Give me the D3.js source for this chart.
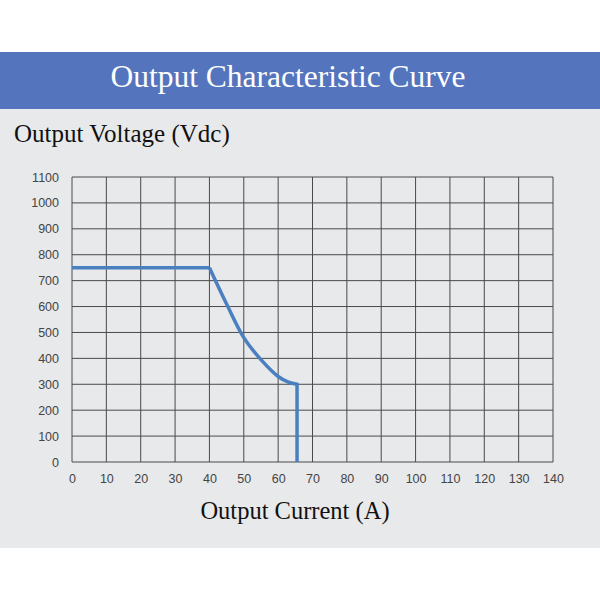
<!DOCTYPE html>
<html>
<head>
<meta charset="utf-8">
<script src="https://cdn.jsdelivr.net/npm/d3@7"></script>
<style>
  body { margin: 0; background: #fff; }
</style>
</head>
<body>
<div id="chart"></div>
<script>
// Data
var currentA = [0, 40, 45, 50, 55, 60, 63, 65.5, 65.5];
var voltageV = [750, 750, 610, 480, 395, 330, 308, 300, 0];
var xTicks = [0, 10, 20, 30, 40, 50, 60, 70, 80, 90, 100, 110, 120, 130, 140];
var yTicks = [0, 100, 200, 300, 400, 500, 600, 700, 800, 900, 1000, 1100];

var svg = d3.select("#chart").append("svg")
  .attr("width", 600).attr("height", 600);

// Background panel and header band
svg.append("rect").attr("x", 0).attr("y", 52).attr("width", 600).attr("height", 496).attr("fill", "#e8e9eb");
svg.append("rect").attr("x", 0).attr("y", 52).attr("width", 600).attr("height", 57).attr("fill", "#5475bd");

svg.append("text")
  .attr("x", 288).attr("y", 87)
  .attr("text-anchor", "middle")
  .style("font", "31.5px 'Liberation Serif', serif")
  .attr("fill", "#fff")
  .text("Output Characteristic Curve");

svg.append("text")
  .attr("x", 14).attr("y", 142)
  .style("font", "25px 'Liberation Serif', serif")
  .attr("fill", "#111")
  .text("Output Voltage (Vdc)");

svg.append("text")
  .attr("x", 295).attr("y", 519)
  .attr("text-anchor", "middle")
  .style("font", "24.5px 'Liberation Serif', serif")
  .attr("fill", "#111")
  .text("Output Current (A)");

var x = d3.scaleLinear().domain([0, 140]).range([72, 553]);
var y = d3.scaleLinear().domain([0, 1100]).range([462, 177]);

// Grid
svg.append("g").selectAll("line").data(xTicks).enter().append("line")
  .attr("x1", d => x(d)).attr("x2", d => x(d))
  .attr("y1", y(0)).attr("y2", y(1100))
  .attr("stroke", "#4a4a4a").attr("stroke-width", 1);
svg.append("g").selectAll("line").data(yTicks).enter().append("line")
  .attr("x1", x(0)).attr("x2", x(140))
  .attr("y1", d => y(d)).attr("y2", d => y(d))
  .attr("stroke", "#4a4a4a").attr("stroke-width", 1);

// Axes (labels only)
var bottomAxis = d3.axisBottom(x).tickValues(xTicks).tickFormat(d3.format("d")).tickSize(0).tickPadding(12);
var leftAxis = d3.axisLeft(y).tickValues(yTicks).tickFormat(d3.format("d")).tickSize(0).tickPadding(13);

var gx = svg.append("g").attr("transform", `translate(0, ${y(0)})`).call(bottomAxis);
var gy = svg.append("g").attr("transform", `translate(${x(0)}, 0)`).call(leftAxis);
[gx, gy].forEach(function(g) {
  g.select(".domain").remove();
  g.selectAll("text")
    .style("font", "12.5px 'Liberation Sans', Arial, sans-serif")
    .attr("fill", "#444");
});

// Curve: flat part, curved drop, vertical cut-off
var line = d3.line()
  .x(i => x(currentA[i]))
  .y(i => y(voltageV[i]));

svg.append("path")
  .datum([0, 1])
  .attr("d", line)
  .attr("fill", "none")
  .attr("stroke", "#4a7fc0")
  .attr("stroke-width", 3.5);

svg.append("path")
  .datum([1, 2, 3, 4, 5, 6, 7])
  .attr("d", line.curve(d3.curveCatmullRom))
  .attr("fill", "none")
  .attr("stroke", "#4a7fc0")
  .attr("stroke-width", 3.5)
  .attr("stroke-linejoin", "round");

svg.append("line")
  .attr("x1", x(currentA[7])).attr("x2", x(currentA[8]))
  .attr("y1", y(voltageV[7]) - 1.5).attr("y2", y(voltageV[8]))
  .attr("stroke", "#4a7fc0")
  .attr("stroke-width", 3.5);
</script>
</body>
</html>
